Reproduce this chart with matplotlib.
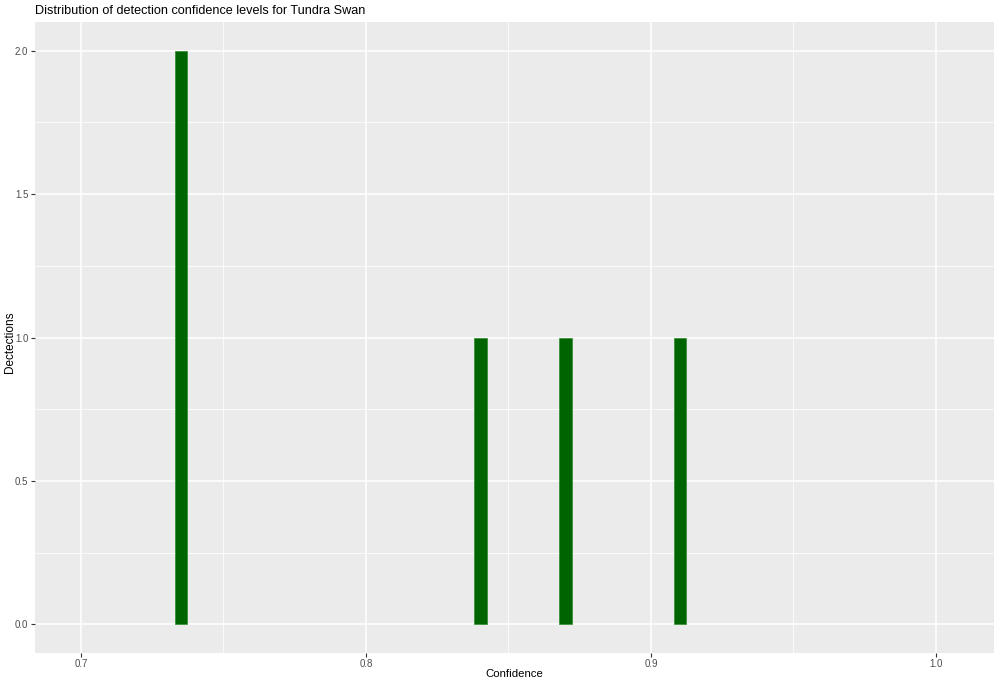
import matplotlib
matplotlib.use("Agg")
import matplotlib.pyplot as plt
from matplotlib.ticker import MultipleLocator

# confidence bins (centres) and detection counts
confidence = [0.7351, 0.8402, 0.8699, 0.9102]
detections = [2, 1, 1, 1]
binwidth = 0.0045

x_ticks = [0.7, 0.8, 0.9, 1.0]
x_labels = ["0.7", "0.8", "0.9", "1.0"]
y_ticks = [0.0, 0.5, 1.0, 1.5, 2.0]
y_labels = ["0.0", "0.5", "1.0", "1.5", "2.0"]

plt.rcParams["font.family"] = ["Liberation Sans", "DejaVu Sans"]

fig = plt.figure(figsize=(10, 6.85), dpi=100)
ax = fig.add_axes([0.0345, 32 / 685, 0.9595, 631 / 685])
ax.set_facecolor("#EBEBEB")

ax.bar(confidence, detections, width=binwidth, color="#006400",
       edgecolor="#2E8B2E", linewidth=0.5, zorder=3)

ax.set_xlim(0.6837, 1.0204)
ax.set_ylim(-0.1, 2.1)
ax.set_xticks(x_ticks)
ax.set_xticklabels(x_labels)
ax.set_yticks(y_ticks)
ax.set_yticklabels(y_labels)
ax.xaxis.set_minor_locator(MultipleLocator(0.05))
ax.yaxis.set_minor_locator(MultipleLocator(0.25))

ax.grid(which="major", color="white", linewidth=1.1, zorder=1)
ax.grid(which="minor", color="white", linewidth=0.55, zorder=1)
ax.tick_params(which="major", length=3, width=0.8, color="#333333",
               labelsize=7, labelcolor="#4D4D4D", pad=1.5)
ax.tick_params(which="minor", length=0)
for s in ax.spines.values():
    s.set_visible(False)

# axis titles placed by hand so they stay inside the figure
fig.text(0.5145, 11 / 685, "Confidence", fontsize=8.2, ha="center", va="center")
fig.text(0.010, 0.5, "Dectections", fontsize=8.5, rotation=90,
         ha="center", va="center")
fig.text(0.035, 0.992, "Distribution of detection confidence levels for Tundra Swan",
         fontsize=9.1, va="top", ha="left")

fig.savefig("out.png", dpi=100)
